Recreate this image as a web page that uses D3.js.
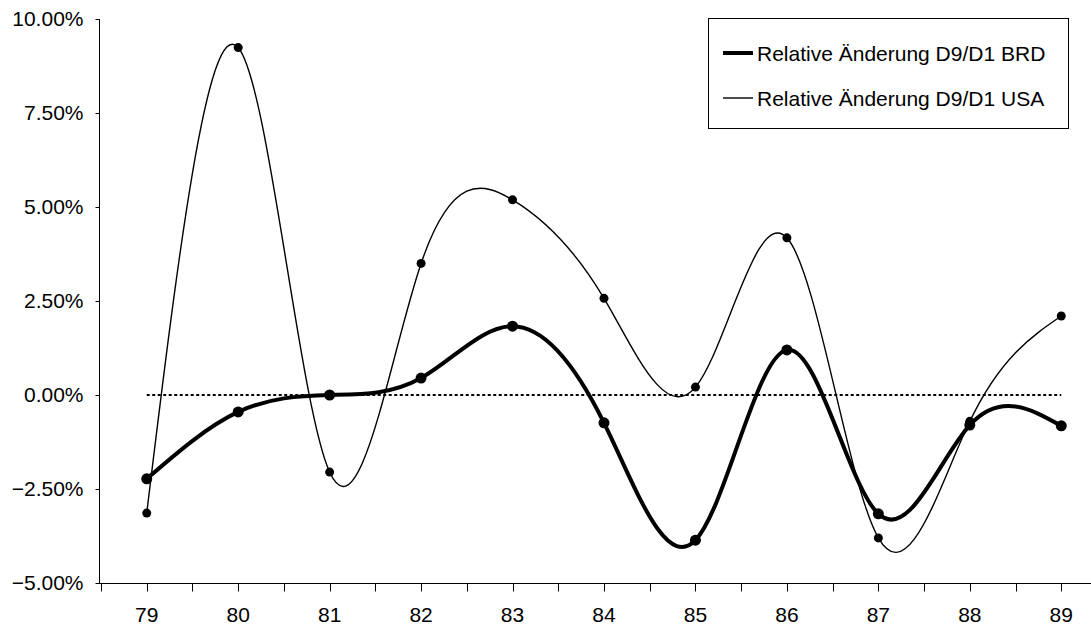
<!DOCTYPE html>
<html>
  <head>
    <meta charset="utf-8">
    <style>
      body { margin: 0; background: #fff; }
      text { font-family: "Liberation Sans", Arial, sans-serif; fill: #000; }
    </style>
  </head>
  <body>
    <script src="https://d3js.org/d3.v7.min.js"></script>
    <script>
      var years = ['79', '80', '81', '82', '83', '84', '85', '86', '87', '88', '89'];
      var brd = [-2.23, -0.45, 0.0, 0.45, 1.83, -0.74, -3.86, 1.20, -3.16, -0.80, -0.82];
      var usa = [-3.14, 9.24, -2.05, 3.50, 5.19, 2.57, 0.21, 4.18, -3.80, -0.70, 2.10];
      var zero = [0, 0, 0, 0, 0, 0, 0, 0, 0, 0, 0];
      var yTicks = [-5, -2.5, 0, 2.5, 5, 7.5, 10];
      var legendLabels = ['Relative Änderung D9/D1 BRD', 'Relative Änderung D9/D1 USA'];

      var W = 1091, H = 625;
      var mLeft = 99, mTop = 19, mBottom = 583;
      var fontSize = '21px';

      var svg = d3.select('body').append('svg')
        .attr('width', W).attr('height', H);

      var x = d3.scalePoint().domain(years).range([101, 1107]).padding(0.5);
      var y = d3.scaleLinear().domain([-5, 10]).range([mBottom, mTop]);
      var step = x.step();

      // y axis
      var yAxis = d3.axisLeft(y).tickValues(yTicks).tickSize(4).tickPadding(12)
        .tickFormat(function (d) { return d3.format('.2f')(d) + '%'; });
      var gy = svg.append('g').attr('transform', 'translate(' + (mLeft + 0.5) + ',0)').call(yAxis);
      gy.selectAll('text').style('font-size', fontSize).style('font-family', null);
      gy.select('.domain').attr('d', 'M0,' + mTop + 'V' + mBottom);

      // x axis: ticks at categories and between them
      var gx = svg.append('g').attr('transform', 'translate(0,' + (mBottom + 0.5) + ')');
      gx.append('line').attr('x1', mLeft).attr('x2', W).attr('stroke', '#000');
      var tickPos = [];
      years.forEach(function (d) {
        tickPos.push(x(d) - step / 2);
        tickPos.push(x(d));
      });
      gx.selectAll('line.t').data(tickPos.filter(function (p) { return p > mLeft + 2 && p < W; }))
        .enter().append('line').attr('class', 't')
        .attr('x1', function (d) { return Math.round(d) + 0.5; })
        .attr('x2', function (d) { return Math.round(d) + 0.5; })
        .attr('y1', 0).attr('y2', 8).attr('stroke', '#000');
      gx.selectAll('text').data(years).enter().append('text')
        .attr('x', function (d) { return x(d); })
        .attr('y', 38)
        .attr('text-anchor', 'middle')
        .style('font-size', fontSize)
        .text(function (d) { return d; });

      // zero line (dotted)
      var straight = d3.line()
        .x(function (d, i) { return x(years[i]); })
        .y(function (d) { return y(d); });
      svg.append('path').datum(zero).attr('d', straight)
        .attr('fill', 'none').attr('stroke', '#000')
        .attr('stroke-width', 2).attr('stroke-dasharray', '3,2.5');

      // smoothed lines
      var smooth = d3.line()
        .x(function (d, i) { return x(years[i]); })
        .y(function (d) { return y(d); })
        .curve(d3.curveNatural);

      var series = [
        { values: usa, width: 1.4, r: 4.5 },
        { values: brd, width: 4, r: 5.5 }
      ];

      series.forEach(function (s) {
        svg.append('path').datum(s.values).attr('d', smooth)
          .attr('fill', 'none').attr('stroke', '#000')
          .attr('stroke-width', s.width);
        svg.append('g').selectAll('circle').data(s.values).enter().append('circle')
          .attr('cx', function (d, i) { return x(years[i]); })
          .attr('cy', function (d) { return y(d); })
          .attr('r', s.r).attr('fill', '#000');
      });

      // legend
      var lg = svg.append('g');
      lg.append('rect').attr('x', 708.5).attr('y', 18.5).attr('width', 360).attr('height', 110)
        .attr('fill', '#fff').attr('stroke', '#000');
      var widths = [4, 1.4];
      var ys = [53, 98];
      legendLabels.forEach(function (t, i) {
        lg.append('line').attr('x1', 723).attr('x2', 753).attr('y1', ys[i]).attr('y2', ys[i])
          .attr('stroke', '#000').attr('stroke-width', widths[i]);
        lg.append('text').attr('x', 757).attr('y', ys[i]).attr('dy', '0.36em')
          .style('font-size', fontSize).text(t);
      });
    </script>
  </body>
</html>
